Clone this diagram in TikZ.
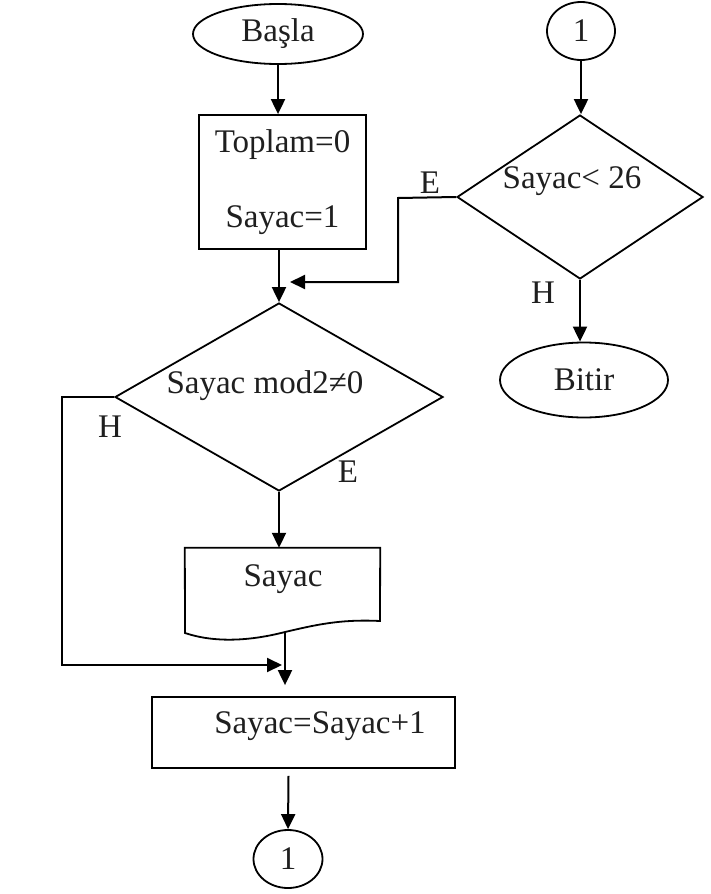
\documentclass[tikz,border=0pt]{standalone}
\usepackage{fontspec}
\setmainfont{Liberation Serif}
\usetikzlibrary{shapes.geometric,arrows.meta,calc}
\begin{document}
\begin{tikzpicture}[x=1pt,y=-1pt,
  every node/.style={font=\fontsize{33}{38}\selectfont, text=black!88},
  shp/.style={draw=black, line width=1.8pt, inner sep=0pt},
  term/.style={shp, ellipse},
  procbox/.style={shp, rectangle},
  decide/.style={shp, diamond},
  lbl/.style={inner sep=0pt},
  arr/.style={draw=black, line width=2pt, -{Triangle[length=15pt,width=14pt]}},
  ln/.style={draw=black, line width=2pt}]
\useasboundingbox[fill=white] (0,0) rectangle (711,894);

% left column
\node[term, minimum width=170, minimum height=60] (basla) at (278,34) {Başla};
\node[procbox, minimum width=167, minimum height=134, align=center,
      font=\fontsize{33}{75}\selectfont] (init) at (282.5,182) {Toplam=0\\Sayac=1};
\node[decide, minimum width=328, minimum height=188] (d1) at (279,397) {};
\node[lbl] (d1t) at (265,386) {Sayac mod2≠0};
\node[lbl, minimum width=195, minimum height=73] (doc) at (282.5,584.5) {};
\node[lbl] (doct) at (283,579) {Sayac};
\node[procbox, minimum width=303, minimum height=71] (box2) at (303.5,732.5) {};
\node[lbl] (box2t) at (320,726) {Sayac=Sayac+1};
\node[term, minimum width=69, minimum height=58] (c1) at (288,859) {1};

% right column
\node[term, minimum width=68, minimum height=58] (c2) at (581,31) {1};
\node[decide, minimum width=246, minimum height=164] (d2) at (580,197) {};
\node[lbl] (d2t) at (572,181) {Sayac< 26};
\node[term, minimum width=168, minimum height=75] (bitir) at (584,380) {Bitir};

% labels
\node[lbl] (lE1) at (430,183) {E};
\node[lbl] (lH1) at (543,293) {H};
\node[lbl] (lH2) at (110,427) {H};
\node[lbl] (lE2) at (348,472) {E};

% document outline
\draw[line width=1.8pt] (doc.north west) -- (doc.north east) -- (380,621)
  .. controls (340,619) and (315,625) .. (285,632)
  .. controls (250,641) and (215,643) .. (185,633) -- cycle;
\coordinate (docb) at (285,632);

% coordinates for joins
\coordinate (ecorner) at (398,198);
\coordinate (ejoin) at (290,282);
\coordinate (hcorner) at (62,397);
\coordinate (hjoin) at (282,665);

% connectors
\draw[arr] (basla.south) -- (basla.south |- init.north);
\draw[arr] (init.south -| d1.north) -- (d1.north);
\draw[arr] (d1.south) -- (d1.south |- doc.north);
\draw[arr, shorten >=11pt] (docb) -- (docb |- box2.north);
\draw[arr] ($(box2.south)+(-15,7)$) -- (c1.north);
\draw[arr] (c2.south) -- (c2.south |- d2.north);
\draw[arr] (d2.south) -- (d2.south |- bitir.north);
\draw[arr] (d2.west) -- (ecorner) |- (ejoin);
\draw[arr] (d1.west) -- (hcorner) |- (hjoin);
\end{tikzpicture}
\end{document}
